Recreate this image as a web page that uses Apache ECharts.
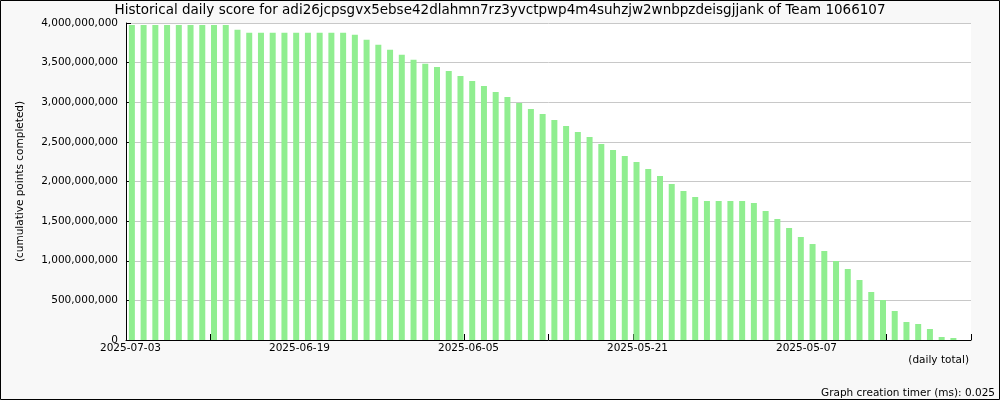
<!DOCTYPE html>
<html>
<head>
<meta charset="utf-8">
<script src="https://cdn.jsdelivr.net/npm/echarts@6/dist/echarts.min.js"></script>
<style>
  html, body { margin: 0; padding: 0; background: #f8f8f8; }
  #chart { width: 1000px; height: 400px; }
</style>
</head>
<body>
<div id="chart"></div>
<script>
// Bar categories: one per day, newest first
const days = [
  '2025-07-03','2025-07-02','2025-07-01','2025-06-30','2025-06-29','2025-06-28','2025-06-27','2025-06-26',
  '2025-06-25','2025-06-24','2025-06-23','2025-06-22','2025-06-21','2025-06-20','2025-06-19','2025-06-18',
  '2025-06-17','2025-06-16','2025-06-15','2025-06-14','2025-06-13','2025-06-12','2025-06-11','2025-06-10',
  '2025-06-09','2025-06-08','2025-06-07','2025-06-06','2025-06-05','2025-06-04','2025-06-03','2025-06-02',
  '2025-06-01','2025-05-31','2025-05-30','2025-05-29','2025-05-28','2025-05-27','2025-05-26','2025-05-25',
  '2025-05-24','2025-05-23','2025-05-22','2025-05-21','2025-05-20','2025-05-19','2025-05-18','2025-05-17',
  '2025-05-16','2025-05-15','2025-05-14','2025-05-13','2025-05-12','2025-05-11','2025-05-10','2025-05-09',
  '2025-05-08','2025-05-07','2025-05-06','2025-05-05','2025-05-04','2025-05-03','2025-05-02','2025-05-01',
  '2025-04-30','2025-04-29','2025-04-28','2025-04-27','2025-04-26','2025-04-25','2025-04-24','2025-04-23'
];

// Cumulative points completed
const scores = [
  3975000000, 3975000000, 3975000000, 3975000000, 3975000000, 3975000000, 3975000000, 3975000000,
  3975000000, 3915000000, 3877000000, 3877000000, 3877000000, 3877000000, 3877000000, 3877000000,
  3877000000, 3877000000, 3877000000, 3852000000, 3789000000, 3726000000, 3663000000, 3600000000,
  3537000000, 3486000000, 3445000000, 3394000000, 3331000000, 3268000000, 3205000000, 3129000000,
  3066000000, 2990000000, 2915000000, 2852000000, 2776000000, 2700000000, 2624000000, 2561000000,
  2473000000, 2397000000, 2322000000, 2246000000, 2158000000, 2069000000, 1968000000, 1880000000,
  1804000000, 1754000000, 1754000000, 1754000000, 1754000000, 1729000000, 1628000000, 1527000000,
  1413000000, 1300000000, 1211000000, 1123000000,  997000000,  896000000,  757000000,  606000000,
   505000000,  366000000,  227000000,  202000000,  139000000,   38000000,   25000000, null
];

// Tick labels of the date axis (one tick per week, label every other tick)
const tickLabels = [
  '2025-07-03', '', '2025-06-19', '', '2025-06-05', '', '2025-05-21', '', '2025-05-07', '', ''
];

const titleText = 'Historical daily score for adi26jcpsgvx5ebse42dlahmn7rz3yvctpwp4m4suhzjw2wnbpzdeisgjjank of Team 1066107';
const yName = '(cumulative points completed)';
const xName = '(daily total)';
const footer = 'Graph creation timer (ms): 0.025';

const FONT = 'DejaVu Sans';
const SMALL = 10.5;
const chart = echarts.init(document.getElementById('chart'), null, { renderer: 'canvas' });

chart.setOption({
  backgroundColor: '#f8f8f8',
  animation: false,
  textStyle: { fontFamily: FONT },
  title: [
    { text: titleText, left: 'center', top: 3, padding: 0,
      textStyle: { fontFamily: FONT, fontSize: 13.5, fontWeight: 'normal', color: '#000' } },
    { text: xName, right: 31, top: 355, padding: 0,
      textStyle: { fontFamily: FONT, fontSize: SMALL, fontWeight: 'normal', color: '#000' } },
    { text: footer, right: 5, top: 388, padding: 0,
      textStyle: { fontFamily: FONT, fontSize: SMALL, fontWeight: 'normal', color: '#000' } }
  ],
  graphic: [
    { type: 'rect', shape: { x: 0.5, y: 0.5, width: 999, height: 399 },
      style: { fill: 'none', stroke: '#000', lineWidth: 1 }, z: 100 }
  ],
  grid: {
    left: 126, top: 23, width: 845, height: 317,
    show: true, backgroundColor: '#ffffff', borderWidth: 0
  },
  xAxis: [
    {
      type: 'category', data: days, boundaryGap: true,
      axisLine: { show: false }, axisTick: { show: false }, axisLabel: { show: false },
      splitLine: { show: false }
    },
    {
      type: 'category', data: tickLabels, boundaryGap: false, position: 'bottom',
      axisLine: { show: true, lineStyle: { color: '#000', width: 1 } },
      axisTick: { show: true, inside: true, length: 6, interval: 0, lineStyle: { color: '#000' } },
      axisLabel: { show: true, interval: 0, color: '#000', fontSize: SMALL, fontFamily: FONT,
                   margin: 3, padding: [0, 0, 0, 9] },
      splitLine: { show: false }
    }
  ],
  yAxis: {
    type: 'value', min: 0, max: 4000000000, interval: 500000000,
    name: yName, nameLocation: 'middle', nameGap: 100, nameRotate: 90,
    nameTextStyle: { fontFamily: FONT, fontSize: SMALL, color: '#000' },
    axisLine: { show: true, lineStyle: { color: '#000', width: 1 } },
    axisTick: { show: true, inside: true, length: 5, lineStyle: { color: '#000' } },
    axisLabel: { color: '#000', fontSize: SMALL, fontFamily: FONT, margin: 8,
                 formatter: v => v.toLocaleString('en-US') },
    splitLine: { show: true, lineStyle: { color: '#c8c8c8', width: 1 } }
  },
  series: [{
    type: 'bar', xAxisIndex: 0, data: scores, barWidth: 6,
    itemStyle: { color: '#90ee90' }
  }]
});
</script>
</body>
</html>
